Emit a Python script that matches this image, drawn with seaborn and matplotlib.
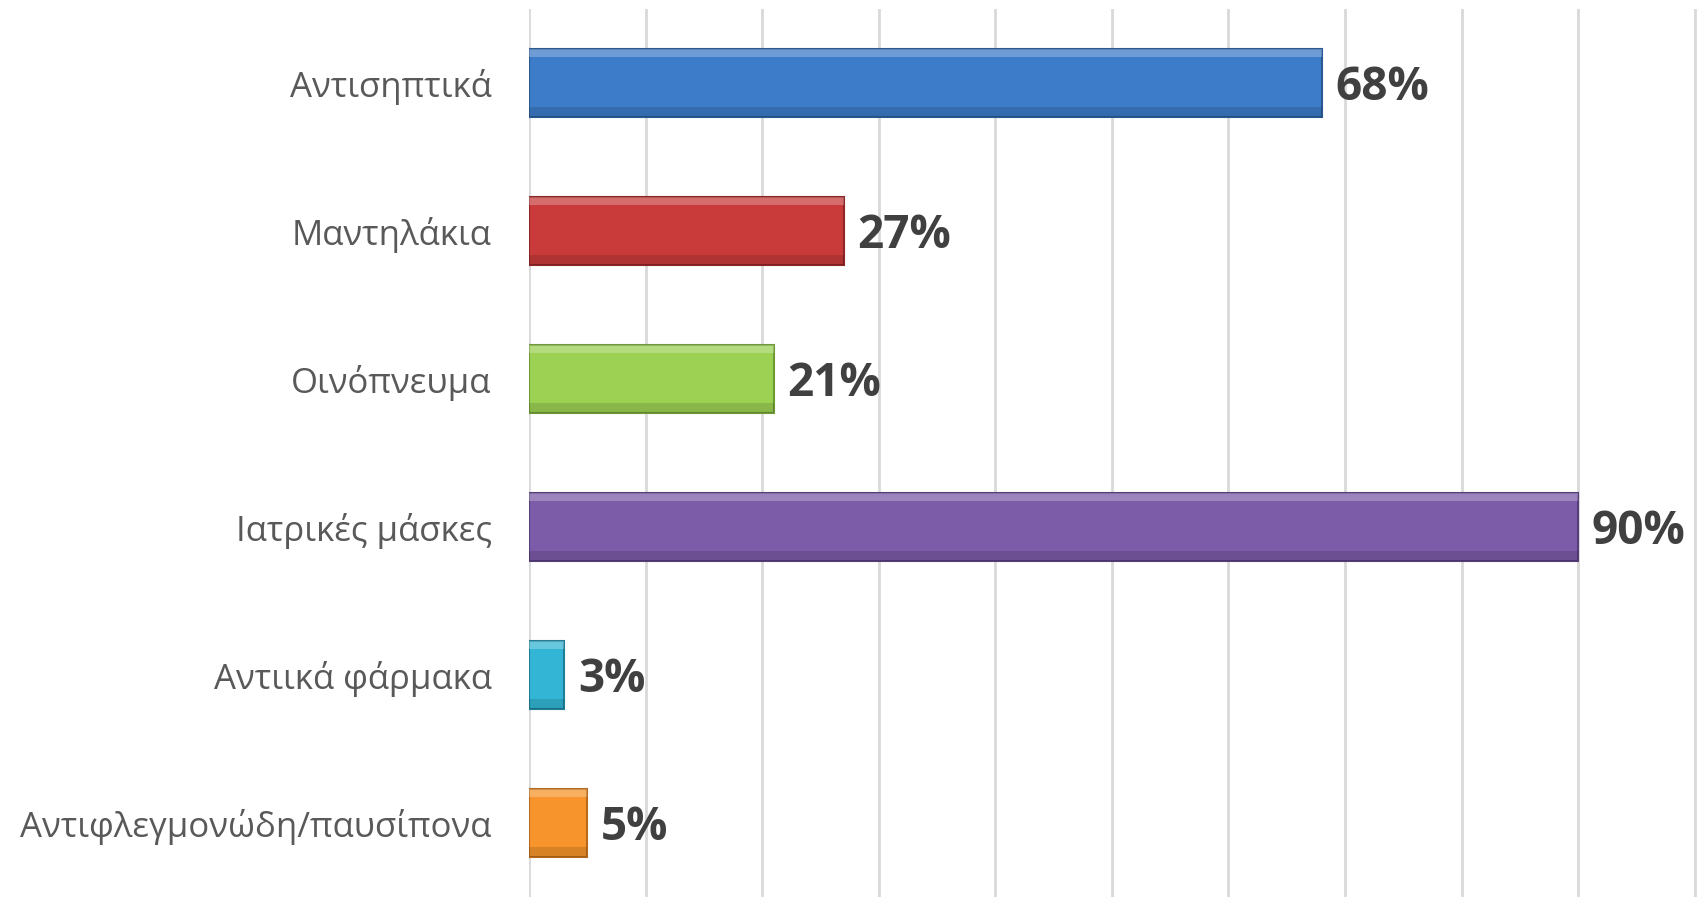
import matplotlib
matplotlib.use("Agg")
import matplotlib.pyplot as plt
import matplotlib.patches as mpatches
import seaborn as sns
import pandas as pd

categories = ["Αντισηπτικά", "Μαντηλάκια", "Οινόπνευμα", "Ιατρικές μάσκες",
              "Αντιικά φάρμακα", "Αντιφλεγμονώδη/παυσίπονα"]
values = [68, 27, 21, 90, 3, 5]
value_labels = ["68%", "27%", "21%", "90%", "3%", "5%"]
colors = ["#3D7CC9", "#C93B3B", "#9CD154", "#7C5BA8", "#33B5D5", "#F7952C"]
edge_colors = ["#2A5A94", "#8E2626", "#6E9A35", "#563E7C", "#1F7F98", "#B8691A"]

sns.set_theme(style="white")
plt.rcParams['font.family'] = ['Open Sans', 'DejaVu Sans']

df = pd.DataFrame({"cat": categories, "val": values})

fig = plt.figure(figsize=(17.04, 8.97), dpi=100)
ax = fig.add_axes([529/1704, 0.0, (1704-529)/1704, 1 - 9/897])

sns.barplot(data=df, y="cat", x="val", hue="cat", palette=colors, legend=False,
            orient="h", width=0.46, ax=ax, saturation=1)

bars = list(ax.patches)
for p, ec in zip(bars, edge_colors):
    p.set_edgecolor(ec)
    p.set_linewidth(1.5)
    p.set_zorder(3)
    # subtle bevel highlight along the top and shade along the bottom
    x0, y0 = p.get_x(), p.get_y()
    w, h = p.get_width(), p.get_height()
    ax.add_patch(mpatches.Rectangle((x0, y0), w, h * 0.12, facecolor="white",
                                    alpha=0.25, linewidth=0, zorder=4))
    ax.add_patch(mpatches.Rectangle((x0, y0 + h * 0.85), w, h * 0.15, facecolor="black",
                                    alpha=0.12, linewidth=0, zorder=4))

ax.set_xlim(0, 100.8)
ax.set_xticks(range(0, 101, 10))
ax.xaxis.grid(True, color="#D9D9D9", linewidth=2)
ax.set_axisbelow(True)
for s in ax.spines.values():
    s.set_visible(False)
ax.set_xticklabels([])
ax.tick_params(axis="x", length=0)
ax.tick_params(axis="y", length=0, pad=27, labelsize=25, labelcolor="#595959")
ax.set_xlabel("")
ax.set_ylabel("")

for i, (v, lab) in enumerate(zip(values, value_labels)):
    ax.annotate(lab, xy=(v, i), xytext=(10, -3), textcoords="offset points",
                va="center", ha="left", fontsize=33, fontweight="bold",
                color="#404040")

fig.savefig("out.png", dpi=100)
